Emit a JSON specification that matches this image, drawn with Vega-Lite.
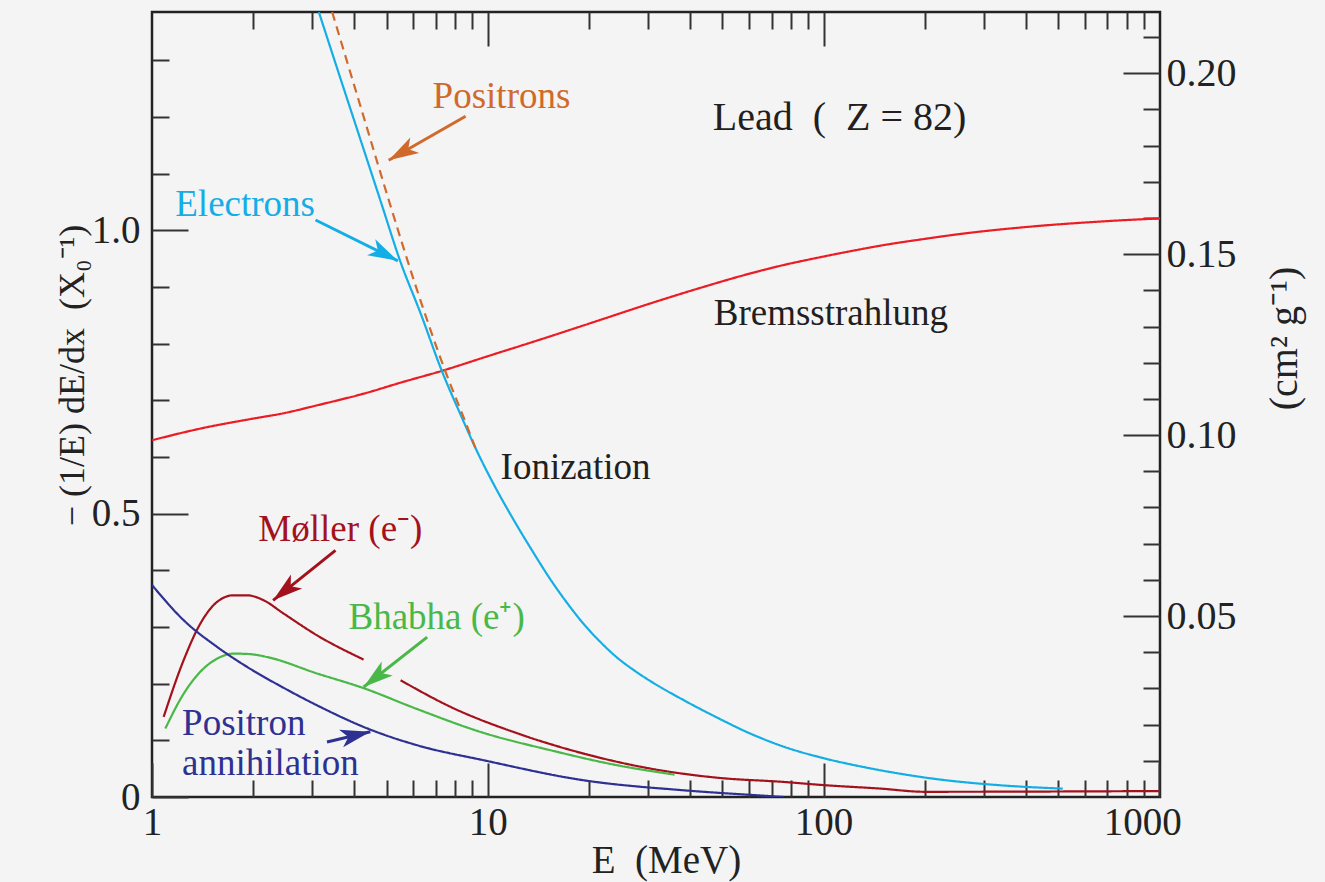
{
  "$schema": "https://vega.github.io/schema/vega-lite/v6.json",
  "width": 1008,
  "height": 785,
  "autosize": "none",
  "padding": {"left": 152, "top": 12, "right": 165, "bottom": 85},
  "background": "#f4f4f4",
  "config": {
    "view": {"stroke": "#222222", "strokeWidth": 2.5},
    "font": "Liberation Serif",
    "axis": {
      "domain": false, "grid": false, "tickColor": "#333333", "tickWidth": 2,
      "labelFont": "Liberation Serif", "labelFontSize": 39, "labelColor": "#222222",
      "titleFont": "Liberation Serif", "titleFontSize": 38, "titleFontWeight": "normal", "titleColor": "#222222",
      "labelOverlap": false, "labelFlush": false
    }
  },
  "datasets": {
    "curves": [
      {"series": "Bremsstrahlung", "seg": "a", "E": 1.0, "v": 0.6294},
      {"series": "Bremsstrahlung", "seg": "a", "E": 1.393, "v": 0.650},
      {"series": "Bremsstrahlung", "seg": "a", "E": 2.004, "v": 0.6677},
      {"series": "Bremsstrahlung", "seg": "a", "E": 2.462, "v": 0.677},
      {"series": "Bremsstrahlung", "seg": "a", "E": 3.10, "v": 0.691},
      {"series": "Bremsstrahlung", "seg": "a", "E": 4.37, "v": 0.7133},
      {"series": "Bremsstrahlung", "seg": "a", "E": 5.497, "v": 0.731},
      {"series": "Bremsstrahlung", "seg": "a", "E": 7.318, "v": 0.752},
      {"series": "Bremsstrahlung", "seg": "a", "E": 10.0, "v": 0.7777},
      {"series": "Bremsstrahlung", "seg": "a", "E": 15.39, "v": 0.813},
      {"series": "Bremsstrahlung", "seg": "a", "E": 21.7, "v": 0.842},
      {"series": "Bremsstrahlung", "seg": "a", "E": 30.56, "v": 0.871},
      {"series": "Bremsstrahlung", "seg": "a", "E": 43.1, "v": 0.8985},
      {"series": "Bremsstrahlung", "seg": "a", "E": 60.74, "v": 0.924},
      {"series": "Bremsstrahlung", "seg": "a", "E": 74.6, "v": 0.9374},
      {"series": "Bremsstrahlung", "seg": "a", "E": 94.9, "v": 0.9508},
      {"series": "Bremsstrahlung", "seg": "a", "E": 120.6, "v": 0.9631},
      {"series": "Bremsstrahlung", "seg": "a", "E": 155.2, "v": 0.9749},
      {"series": "Bremsstrahlung", "seg": "a", "E": 195.0, "v": 0.9837},
      {"series": "Bremsstrahlung", "seg": "a", "E": 253.3, "v": 0.9931},
      {"series": "Bremsstrahlung", "seg": "a", "E": 415, "v": 1.0064},
      {"series": "Bremsstrahlung", "seg": "a", "E": 680, "v": 1.0156},
      {"series": "Bremsstrahlung", "seg": "a", "E": 1005, "v": 1.0209},

      {"series": "Electrons", "seg": "a", "E": 3.14, "v": 1.385},
      {"series": "Electrons", "seg": "a", "E": 3.64, "v": 1.268},
      {"series": "Electrons", "seg": "a", "E": 4.177, "v": 1.160},
      {"series": "Electrons", "seg": "a", "E": 4.792, "v": 1.052},
      {"series": "Electrons", "seg": "a", "E": 5.497, "v": 0.944},
      {"series": "Electrons", "seg": "a", "E": 6.305, "v": 0.8538},
      {"series": "Electrons", "seg": "a", "E": 7.318, "v": 0.750},
      {"series": "Electrons", "seg": "a", "E": 8.297, "v": 0.6748},
      {"series": "Electrons", "seg": "a", "E": 9.305, "v": 0.6091},
      {"series": "Electrons", "seg": "a", "E": 10.55, "v": 0.5456},
      {"series": "Electrons", "seg": "a", "E": 11.96, "v": 0.4883},
      {"series": "Electrons", "seg": "a", "E": 13.57, "v": 0.4344},
      {"series": "Electrons", "seg": "a", "E": 15.39, "v": 0.3833},
      {"series": "Electrons", "seg": "a", "E": 17.26, "v": 0.3418},
      {"series": "Electrons", "seg": "a", "E": 19.34, "v": 0.3047},
      {"series": "Electrons", "seg": "a", "E": 21.69, "v": 0.2730},
      {"series": "Electrons", "seg": "a", "E": 24.32, "v": 0.2456},
      {"series": "Electrons", "seg": "a", "E": 27.26, "v": 0.2236},
      {"series": "Electrons", "seg": "a", "E": 30.56, "v": 0.2042},
      {"series": "Electrons", "seg": "a", "E": 38.41, "v": 0.1706},
      {"series": "Electrons", "seg": "a", "E": 48.32, "v": 0.1398},
      {"series": "Electrons", "seg": "a", "E": 60.74, "v": 0.1115},
      {"series": "Electrons", "seg": "a", "E": 76.3, "v": 0.0886},
      {"series": "Electrons", "seg": "a", "E": 100.4, "v": 0.0683},
      {"series": "Electrons", "seg": "a", "E": 135.2, "v": 0.0515},
      {"series": "Electrons", "seg": "a", "E": 213.7, "v": 0.0321},
      {"series": "Electrons", "seg": "a", "E": 337.7, "v": 0.0206},
      {"series": "Electrons", "seg": "a", "E": 515.8, "v": 0.0148},

      {"series": "Positrons", "seg": "a", "E": 3.44, "v": 1.385},
      {"series": "Positrons", "seg": "a", "E": 4.126, "v": 1.2294},
      {"series": "Positrons", "seg": "a", "E": 5.073, "v": 1.0529},
      {"series": "Positrons", "seg": "a", "E": 6.114, "v": 0.900},
      {"series": "Positrons", "seg": "a", "E": 7.495, "v": 0.7494},
      {"series": "Positrons", "seg": "a", "E": 8.54, "v": 0.6647},
      {"series": "Positrons", "seg": "a", "E": 9.29, "v": 0.6083},

      {"series": "Moller", "seg": "a", "E": 1.083, "v": 0.1412},
      {"series": "Moller", "seg": "a", "E": 1.242, "v": 0.2412},
      {"series": "Moller", "seg": "a", "E": 1.393, "v": 0.3059},
      {"series": "Moller", "seg": "a", "E": 1.562, "v": 0.3441},
      {"series": "Moller", "seg": "a", "E": 1.751, "v": 0.3559},
      {"series": "Moller", "seg": "a", "E": 1.919, "v": 0.3559},
      {"series": "Moller", "seg": "a", "E": 2.150, "v": 0.3471},
      {"series": "Moller", "seg": "a", "E": 2.468, "v": 0.3235},
      {"series": "Moller", "seg": "a", "E": 3.10, "v": 0.2853},
      {"series": "Moller", "seg": "a", "E": 4.27, "v": 0.2424},
      {"series": "Moller", "seg": "b", "E": 5.50, "v": 0.206},
      {"series": "Moller", "seg": "b", "E": 7.75, "v": 0.159},
      {"series": "Moller", "seg": "b", "E": 12.3, "v": 0.112},
      {"series": "Moller", "seg": "b", "E": 19.3, "v": 0.0766},
      {"series": "Moller", "seg": "b", "E": 30.6, "v": 0.050},
      {"series": "Moller", "seg": "b", "E": 48.3, "v": 0.034},
      {"series": "Moller", "seg": "b", "E": 76.4, "v": 0.0265},
      {"series": "Moller", "seg": "b", "E": 100, "v": 0.021},
      {"series": "Moller", "seg": "b", "E": 148, "v": 0.0148},
      {"series": "Moller", "seg": "b", "E": 200, "v": 0.0092},
      {"series": "Moller", "seg": "b", "E": 1005, "v": 0.0105},

      {"series": "Bhabha", "seg": "a", "E": 1.096, "v": 0.121},
      {"series": "Bhabha", "seg": "a", "E": 1.242, "v": 0.182},
      {"series": "Bhabha", "seg": "a", "E": 1.393, "v": 0.221},
      {"series": "Bhabha", "seg": "a", "E": 1.562, "v": 0.244},
      {"series": "Bhabha", "seg": "a", "E": 1.751, "v": 0.253},
      {"series": "Bhabha", "seg": "a", "E": 1.963, "v": 0.252},
      {"series": "Bhabha", "seg": "a", "E": 2.2, "v": 0.247},
      {"series": "Bhabha", "seg": "a", "E": 3.10, "v": 0.218},
      {"series": "Bhabha", "seg": "a", "E": 4.27, "v": 0.192},
      {"series": "Bhabha", "seg": "a", "E": 6.17, "v": 0.155},
      {"series": "Bhabha", "seg": "a", "E": 9.73, "v": 0.113},
      {"series": "Bhabha", "seg": "a", "E": 15.4, "v": 0.0824},
      {"series": "Bhabha", "seg": "a", "E": 24.3, "v": 0.056},
      {"series": "Bhabha", "seg": "a", "E": 36, "v": 0.0395},

      {"series": "Annihilation", "seg": "a", "E": 1.0, "v": 0.374},
      {"series": "Annihilation", "seg": "a", "E": 1.242, "v": 0.312},
      {"series": "Annihilation", "seg": "a", "E": 1.562, "v": 0.2649},
      {"series": "Annihilation", "seg": "a", "E": 1.963, "v": 0.2260},
      {"series": "Annihilation", "seg": "a", "E": 2.468, "v": 0.1925},
      {"series": "Annihilation", "seg": "a", "E": 3.10, "v": 0.1618},
      {"series": "Annihilation", "seg": "a", "E": 4.37, "v": 0.1212},
      {"series": "Annihilation", "seg": "a", "E": 6.17, "v": 0.0912},
      {"series": "Annihilation", "seg": "a", "E": 9.73, "v": 0.0648},
      {"series": "Annihilation", "seg": "a", "E": 19.3, "v": 0.0295},
      {"series": "Annihilation", "seg": "a", "E": 38.4, "v": 0.0118},
      {"series": "Annihilation", "seg": "a", "E": 68, "v": 0.0019},
      {"series": "Annihilation", "seg": "a", "E": 76, "v": 0.0}
    ],
    "notes": [
      {"series": "Note", "text": "Lead\u00a0\u00a0(\u00a0\u00a0Z = 82)", "E": 46.8, "v": 1.198},
      {"series": "Note", "text": "Bremsstrahlung", "E": 47.1, "v": 0.853},
      {"series": "Note", "text": "Ionization", "E": 10.92, "v": 0.580},
      {"series": "Electrons", "text": "Electrons", "E": 1.173, "v": 1.044},
      {"series": "Positrons", "text": "Positrons", "E": 6.85, "v": 1.235},
      {"series": "Moller", "text": "Møller (e⁻)", "E": 2.074, "v": 0.471},
      {"series": "Bhabha", "text": "Bhabha (e⁺)", "E": 3.847, "v": 0.315},
      {"series": "Annihilation", "text": "Positron", "E": 1.229, "v": 0.128},
      {"series": "Annihilation", "text": "annihilation", "E": 1.229, "v": 0.0585}
    ],
    "arrows": [
      {"series": "Electrons", "E1": 3.07, "v1": 1.018, "E2": 5.40, "v2": 0.946},
      {"series": "Positrons", "E1": 8.59, "v1": 1.201, "E2": 5.07, "v2": 1.1235},
      {"series": "Moller", "E1": 3.52, "v1": 0.435, "E2": 2.295, "v2": 0.347},
      {"series": "Bhabha", "E1": 6.60, "v1": 0.282, "E2": 4.27, "v2": 0.194},
      {"series": "Annihilation", "E1": 3.32, "v1": 0.097, "E2": 4.47, "v2": 0.115}
    ]
  },
  "layer": [
    {
      "data": {"name": "curves"},
      "mark": {"type": "line", "strokeWidth": 2.2, "clip": true, "interpolate": "monotone"},
      "encoding": {
        "x": {"field": "E", "type": "quantitative", "scale": {"type": "log", "domain": [1, 1005], "nice": false},
          "axis": {"orient": "bottom", "values": [1, 10, 100, 1000], "format": "d", "tickSize": -34, "labelPadding": 40, "labelBaseline": "top",
            "labelOffset": {"condition": {"test": "datum.value == 1000", "value": -17}, "value": 0},
            "title": "E\u00a0\u00a0(MeV)", "titleX": 514, "titleY": 63, "titleAlign": "center", "titleBaseline": "middle", "titleFontSize": 39}},
        "y": {"field": "v", "type": "quantitative", "scale": {"domain": [0, 1.385], "nice": false, "zero": false},
          "axis": {"orient": "left", "values": [0, 0.5, 1.0], "labelExpr": "datum.value == 0 ? '0' : format(datum.value, '.1f')", "tickSize": -36, "labelPadding": 48,
            "title": "− (1/E) dE/dx\u00a0\u00a0(X₀⁻¹)", "titleAngle": 270, "titleX": -80, "titleY": 363, "titleAlign": "center", "titleBaseline": "middle", "titleFontSize": 36}},
        "color": {"field": "series", "type": "nominal",
          "scale": {"domain": ["Electrons", "Positrons", "Bremsstrahlung", "Moller", "Bhabha", "Annihilation", "Note"],
            "range": ["#14aee6", "#d06a2c", "#ec1c24", "#a3111c", "#4ab848", "#2e3192", "#231f20"]}, "legend": null},
        "strokeDash": {"field": "series", "type": "nominal",
          "scale": {"domain": ["Electrons", "Positrons", "Bremsstrahlung", "Moller", "Bhabha", "Annihilation"],
            "range": [[1, 0], [9, 6], [1, 0], [1, 0], [1, 0], [1, 0]]}, "legend": null},
        "detail": {"field": "seg", "type": "nominal"}
      }
    },
    {
      "data": {"name": "notes"},
      "transform": [{"filter": "datum.series != 'Annihilation' && indexof(datum.text, 'Lead') < 0"}],
      "mark": {"type": "text", "align": "left", "baseline": "middle", "font": "Liberation Serif", "fontSize": 37},
      "encoding": {
        "x": {"field": "E", "type": "quantitative",
          "axis": {"orient": "bottom", "values": [2, 3, 4, 5, 6, 7, 8, 9, 20, 30, 40, 50, 60, 70, 80, 90, 200, 300, 400, 500, 600, 700, 800, 900], "tickSize": -17, "labels": false, "title": null}},
        "y": {"field": "v", "type": "quantitative",
          "axis": {"orient": "left", "values": [0.1, 0.2, 0.3, 0.4, 0.6, 0.7, 0.8, 0.9, 1.1, 1.2, 1.3], "tickSize": -17, "labels": false, "title": null}},
        "text": {"field": "text"},
        "color": {"field": "series", "type": "nominal", "legend": null}
      }
    },
    {
      "data": {"name": "notes"},
      "transform": [{"filter": "indexof(datum.text, 'Lead') >= 0"}],
      "mark": {"type": "text", "align": "left", "baseline": "middle", "font": "Liberation Serif", "fontSize": 40},
      "encoding": {
        "x": {"field": "E", "type": "quantitative", "axis": null},
        "y": {"field": "v", "type": "quantitative", "axis": null},
        "text": {"field": "text"},
        "color": {"field": "series", "type": "nominal", "legend": null}
      }
    },
    {
      "data": {"name": "notes"},
      "transform": [{"filter": "datum.series == 'Annihilation'"}],
      "mark": {"type": "text", "align": "left", "baseline": "middle", "font": "Liberation Serif", "fontSize": 37},
      "encoding": {
        "x": {"field": "E", "type": "quantitative", "axis": null},
        "y": {"field": "v", "type": "quantitative", "axis": null},
        "text": {"field": "text"},
        "color": {"field": "series", "type": "nominal", "legend": null}
      }
    },
    {
      "data": {"name": "arrows"},
      "mark": {"type": "rule", "strokeWidth": 3},
      "encoding": {
        "x": {"field": "E1", "type": "quantitative",
          "axis": {"orient": "top", "values": [10, 100], "tickSize": -34, "labels": false, "title": null}},
        "y": {"field": "v1", "type": "quantitative",
          "axis": {"orient": "right", "values": [0.31925, 0.6385, 0.95775, 1.277], "labelExpr": "format(datum.value / 6.385, '.2f')", "tickSize": -37, "labelPadding": 43, "labelFontSize": 40,
            "title": "(cm² g⁻¹)", "titleAngle": 270, "titleX": 124, "titleY": 326, "titleAlign": "center", "titleBaseline": "middle", "titleFontSize": 40}},
        "x2": {"field": "E2"},
        "y2": {"field": "v2"},
        "color": {"field": "series", "type": "nominal", "legend": null}
      }
    },
    {
      "data": {"name": "arrows"},
      "transform": [{"filter": "datum.series == 'Electrons'"}],
      "mark": {"type": "point", "shape": "M0,0 L-0.6,2 L0,1.5 L0.6,2 Z", "size": 900, "filled": true, "opacity": 1, "strokeWidth": 0, "angle": 117},
      "encoding": {
        "x": {"field": "E2", "type": "quantitative",
          "axis": {"orient": "top", "values": [2, 3, 4, 5, 6, 7, 8, 9, 20, 30, 40, 50, 60, 70, 80, 90, 200, 300, 400, 500, 600, 700, 800, 900], "tickSize": -17, "labels": false, "title": null}},
        "y": {"field": "v2", "type": "quantitative",
          "axis": {"orient": "right", "values": [0.06385, 0.1277, 0.19155, 0.2554, 0.3831, 0.44695, 0.5108, 0.57465, 0.70235, 0.7662, 0.83005, 0.8939, 1.0216, 1.08545, 1.1493, 1.21315, 1.34085], "tickSize": -17, "labels": false, "title": null}},
        "color": {"field": "series", "type": "nominal", "legend": null}
      }
    },
    {
      "data": {"name": "arrows"},
      "transform": [{"filter": "datum.series == 'Positrons'"}],
      "mark": {"type": "point", "shape": "M0,0 L-0.6,2 L0,1.5 L0.6,2 Z", "size": 900, "filled": true, "opacity": 1, "strokeWidth": 0, "angle": 240.2},
      "encoding": {
        "x": {"field": "E2", "type": "quantitative", "axis": null},
        "y": {"field": "v2", "type": "quantitative", "axis": null},
        "color": {"field": "series", "type": "nominal", "legend": null}
      }
    },
    {
      "data": {"name": "arrows"},
      "transform": [{"filter": "datum.series == 'Moller'"}],
      "mark": {"type": "point", "shape": "M0,0 L-0.6,2 L0,1.5 L0.6,2 Z", "size": 900, "filled": true, "opacity": 1, "strokeWidth": 0, "angle": 231.3},
      "encoding": {
        "x": {"field": "E2", "type": "quantitative", "axis": null},
        "y": {"field": "v2", "type": "quantitative", "axis": null},
        "color": {"field": "series", "type": "nominal", "legend": null}
      }
    },
    {
      "data": {"name": "arrows"},
      "transform": [{"filter": "datum.series == 'Bhabha'"}],
      "mark": {"type": "point", "shape": "M0,0 L-0.6,2 L0,1.5 L0.6,2 Z", "size": 900, "filled": true, "opacity": 1, "strokeWidth": 0, "angle": 231.7},
      "encoding": {
        "x": {"field": "E2", "type": "quantitative", "axis": null},
        "y": {"field": "v2", "type": "quantitative", "axis": null},
        "color": {"field": "series", "type": "nominal", "legend": null}
      }
    },
    {
      "data": {"name": "arrows"},
      "transform": [{"filter": "datum.series == 'Annihilation'"}],
      "mark": {"type": "point", "shape": "M0,0 L-0.6,2 L0,1.5 L0.6,2 Z", "size": 900, "filled": true, "opacity": 1, "strokeWidth": 0, "angle": 77},
      "encoding": {
        "x": {"field": "E2", "type": "quantitative", "axis": null},
        "y": {"field": "v2", "type": "quantitative", "axis": null},
        "color": {"field": "series", "type": "nominal", "legend": null}
      }
    }
  ],
  "resolve": {"axis": {"x": "independent", "y": "independent"}}
}
